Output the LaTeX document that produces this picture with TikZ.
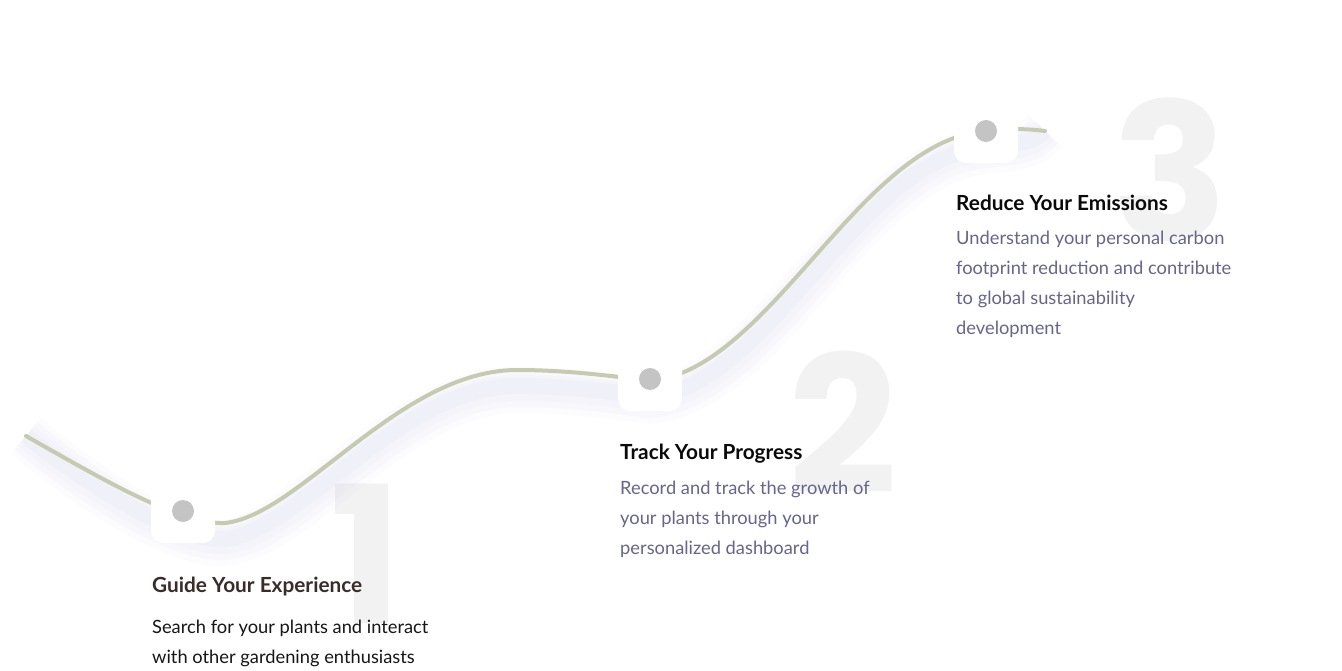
\documentclass[tikz,border=0pt]{standalone}
\usepackage{fontspec}
\setmainfont{Lato}
\newfontfamily\numfont{Poppins}
\definecolor{curvecol}{HTML}{C5CAB1}
\definecolor{shadowcol}{HTML}{CFCFEE}
\definecolor{dotcol}{HTML}{C4C4C4}
\definecolor{numcol}{HTML}{F2F2F2}
\definecolor{titleA}{HTML}{3B2B2B}
\definecolor{titleB}{HTML}{0A0A0A}
\definecolor{bodyA}{HTML}{161616}
\definecolor{bodyB}{HTML}{67658A}
\tikzset{
  curvepath/.style={insert path={(p0) .. controls (100,478) and (180,525) .. (225,523)
      .. controls (300,515) and (400,370) .. (517,370)
      .. controls (570,370) and (620,377) .. (650,381)
      .. controls (770,370) and (860,140) .. (986,131)
      .. controls (1010,128) and (1030,129) .. (p5)}},
  numstyle/.style={inner sep=0pt, text=numcol, font=\numfont\bfseries\fontsize{191}{191}\selectfont},
  markbox/.style={rectangle, rounded corners=12pt, minimum size=64pt, inner sep=0pt, fill=white},
  dotstyle/.style={circle, minimum size=22pt, inner sep=0pt, fill=dotcol},
  titlestyle/.style={inner sep=0pt, anchor=base west, font=\bfseries\fontsize{20.8}{24}\selectfont},
  bodystyle/.style={inner sep=0pt, anchor=base west, font=\fontsize{18.3}{30}\selectfont},
}
\begin{document}
\begin{tikzpicture}[x=1pt,y=-1pt]
\useasboundingbox (0,0) rectangle (1342,671);
\fill[white] (0,0) rectangle (1342,671);
% big numbers
\node[numstyle, anchor=base] (n1) at (366,623) {1};
\node[numstyle, anchor=base] (n2) at (843,493) {2};
\node[numstyle, anchor=base] (n3) at (1170,241) {3};
% waypoints
\coordinate (p0) at (26,436);
\coordinate (p5) at (1045,131);
% soft shadow of the curve
\begin{scope}[line cap=butt]
  \foreach \w/\o/\s in {46/0.06/20, 36/0.07/19, 26/0.08/18, 16/0.10/16}{
    \begin{scope}[yshift=-\s pt]
      \draw[shadowcol, opacity=\o, line width=\w pt, curvepath];
    \end{scope}
  }
\end{scope}
% curve
\draw[curvecol, line width=4pt, line cap=round, curvepath];
% markers
\node[markbox] (m1) at (183,511) {};
\node[markbox] (m2) at (650,379) {};
\node[markbox] (m3) at (986,131) {};
\node[dotstyle] (d1) at (m1) {};
\node[dotstyle] (d2) at (m2) {};
\node[dotstyle] (d3) at (m3) {};
% texts
\node[titlestyle, text=titleA] (t1) at (152,592) {Guide Your Experience};
\node[bodystyle, text=bodyA] (b1) at (152,633) {\vtop{\hbox{Search for your plants and interact}\hbox{with other gardening enthusiasts}}};
\node[titlestyle, text=titleB] (t2) at (620,459) {Track Your Progress};
\node[bodystyle, text=bodyB] (b2) at (620,494) {\vtop{\hbox{Record and track the growth of}\hbox{your plants through your}\hbox{personalized dashboard}}};
\node[titlestyle, text=titleB] (t3) at (956,211) {Reduce Your Emissions};
\node[bodystyle, text=bodyB] (b3) at (956,245) {\vtop{\hbox{Understand your personal carbon}\hbox{footprint reduction and contribute}\hbox{to global sustainability}\hbox{development}}};
\end{tikzpicture}
\end{document}
